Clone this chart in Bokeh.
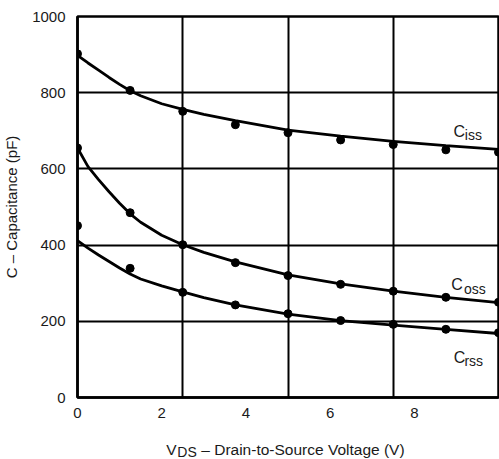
from bokeh.plotting import figure
from bokeh.models import ColumnDataSource, FixedTicker, Label, Range1d
from bokeh.layouts import column
from bokeh.core.properties import value
from bokeh.embed import file_html
from bokeh.resources import INLINE

# Measured points (V_DS in volts, capacitance in pF)
vds_points = [0, 1.25, 2.5, 3.75, 5.0, 6.25, 7.5, 8.75, 10.0]
ciss_points = [902, 806, 751, 716, 695, 676, 664, 650, 644]
coss_points = [655, 485, 401, 354, 320, 297, 279, 263, 250]
crss_points = [451, 339, 276, 243, 220, 202, 192, 179, 170]

# Fitted curves
vds_curve = [0, 0.25, 0.5, 0.75, 1.0, 1.25, 1.5, 2.0, 2.5, 3.0, 3.75, 5.0, 6.25, 7.5, 8.75, 10.0]
ciss_curve = [898, 878, 859, 840, 822, 805, 792, 771, 756, 743, 727, 702, 686, 672, 661, 651]
coss_curve = [655, 606, 572, 540, 510, 482, 460, 426, 401, 381, 356, 322, 298, 279, 263, 249]
crss_curve = [412, 392, 374, 357, 340, 324, 311, 293, 277, 262, 243, 219, 202, 190, 179, 168]

x_ticks = [0, 2, 4, 6, 8]
x_grid = [2.5, 5.0, 7.5]
y_ticks = [0, 200, 400, 600, 800, 1000]

FONT = "Liberation Sans"
TXT = "#1a1a1a"

xr = Range1d(0, 10)
p = figure(width=499, height=422, x_range=xr, y_range=(0, 1000),
           output_backend="svg", toolbar_location=None,
           min_border_left=76, min_border_right=1, min_border_top=16, min_border_bottom=25)

p.background_fill_color = "white"
p.border_fill_color = "white"
p.outline_line_color = "black"
p.outline_line_width = 2.5

p.xaxis.ticker = FixedTicker(ticks=x_ticks)
p.yaxis.ticker = FixedTicker(ticks=y_ticks)
p.xgrid.ticker = FixedTicker(ticks=x_grid)
p.ygrid.ticker = FixedTicker(ticks=y_ticks[1:-1])
for g in (p.xgrid, p.ygrid):
    g.grid_line_color = "black"
    g.grid_line_width = 2

for ax in (p.xaxis, p.yaxis):
    ax.axis_line_color = "black"
    ax.axis_line_width = 2.5
    ax.major_tick_line_color = None
    ax.minor_tick_line_color = None
    ax.major_label_text_font = FONT
    ax.major_label_text_font_size = "15px"
    ax.major_label_text_color = TXT

p.xaxis.major_label_standoff = 4
p.yaxis.major_label_standoff = 6
p.yaxis.axis_label = "C – Capacitance (pF)"
p.yaxis.axis_label_text_font = FONT
p.yaxis.axis_label_text_font_size = "15px"
p.yaxis.axis_label_text_font_style = "normal"
p.yaxis.axis_label_text_color = TXT
p.yaxis.axis_label_standoff = 9

src_c = ColumnDataSource(dict(x=vds_curve, ciss=ciss_curve, coss=coss_curve, crss=crss_curve))
src_p = ColumnDataSource(dict(x=vds_points, ciss=ciss_points, coss=coss_points, crss=crss_points))

for col in ("ciss", "coss", "crss"):
    p.line("x", col, source=src_c, line_color="black", line_width=2.8)
    p.scatter("x", col, source=src_p, size=8, fill_color="black", line_color="black")

# Curve labels with subscripts
curve_labels = [
    ("C", "iss", 8.93, 699, 9.20, 690),
    ("C", "oss", 8.88, 296, 9.18, 285),
    ("C", "rss", 8.94, 104, 9.19, 97),
]
for main, sub, xm, ym, xs, ys in curve_labels:
    p.add_layout(Label(x=xm, y=ym, text=main, text_font=FONT, text_font_size="16px",
                       text_color=TXT, text_align="left", text_baseline="alphabetic"))
    p.add_layout(Label(x=xs, y=ys, text=sub, text_font=FONT, text_font_size="14px",
                       text_color=TXT, text_align="left", text_baseline="alphabetic"))

# Strip below the chart holding the x-axis title (with subscript)
p2 = figure(width=499, height=37, x_range=xr, y_range=Range1d(0, 37),
            output_backend="svg", toolbar_location=None,
            x_axis_type=None, y_axis_type=None,
            min_border_left=76, min_border_right=1, min_border_top=0, min_border_bottom=0)
p2.outline_line_color = None
p2.grid.visible = False
p2.background_fill_color = "white"
p2.border_fill_color = "white"

p2.text(x=[2.109, 2.94], y=[10.5, 10.5], text=["V", "– Drain-to-Source Voltage (V)"],
        text_font=value(FONT), text_font_size=value("15.5px"), text_color=TXT,
        text_align="left", text_baseline="alphabetic")
p2.text(x=[2.37], y=[7.5], text=["DS"],
        text_font=value(FONT), text_font_size=value("14px"), text_color=TXT,
        text_align="left", text_baseline="alphabetic")

layout = column(p, p2, spacing=0)
open("out.html", "w").write(file_html(layout, INLINE))
